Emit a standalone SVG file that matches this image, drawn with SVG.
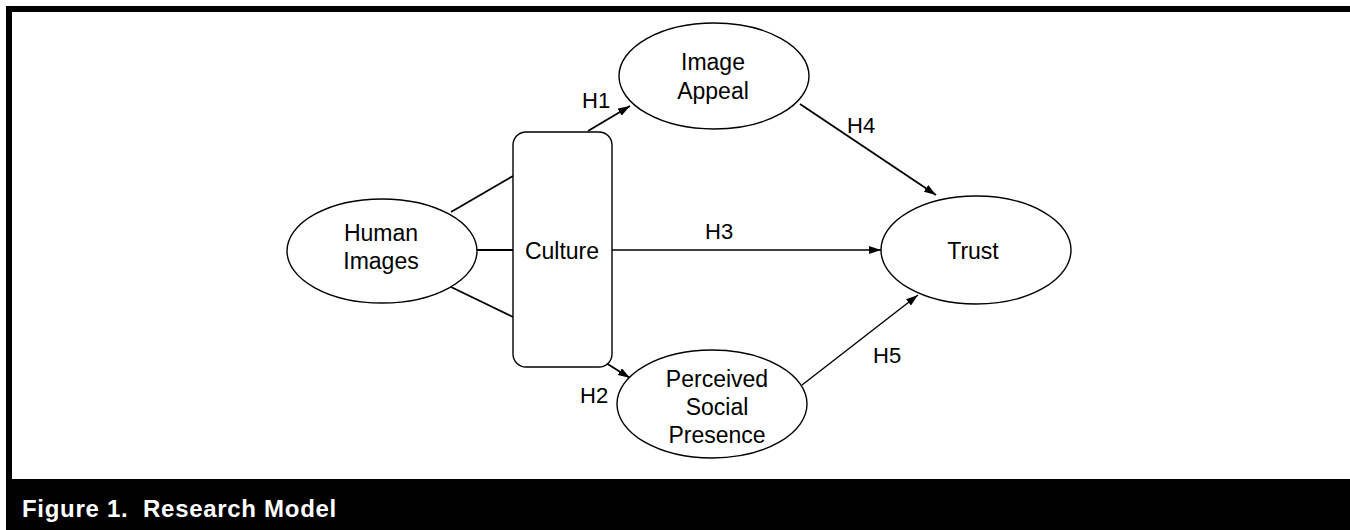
<svg xmlns="http://www.w3.org/2000/svg" width="1350" height="530" viewBox="0 0 1350 530">
<style>
.node{fill:#fff;stroke:#000;stroke-width:1.4}
.t{font-family:"Liberation Sans",Arial,sans-serif;font-size:23px;fill:#000;text-anchor:middle}
.lbl{font-family:"Liberation Sans",Arial,sans-serif;font-size:22px;fill:#000}
.ln{stroke:#000;stroke-width:1.8;fill:none}
.arr{stroke:#000;stroke-width:1.8;fill:none;marker-end:url(#ah)}
.thin{stroke-width:1.4}
.cap{font-family:"Liberation Sans",Arial,sans-serif;font-size:24px;font-weight:bold;fill:#fff;white-space:pre;letter-spacing:0.7px}
</style>
<defs>
<marker id="ah" viewBox="0 0 12 8" refX="12" refY="4" markerWidth="12" markerHeight="8" markerUnits="userSpaceOnUse" orient="auto">
<path d="M0,0 L12,4 L0,8 Z" fill="#000"/>
</marker>
</defs>
<rect x="0" y="0" width="1350" height="530" fill="#fff"/>
<g id="frame">
<rect x="6" y="6" width="1344" height="6" fill="#000"/>
<rect x="6" y="6" width="6" height="524" fill="#000"/>
<rect x="6" y="479" width="1344" height="51" fill="#000"/>
<text class="cap" x="22" y="517">Figure 1.  Research Model</text>
</g>
<g id="connectors">
<line class="ln" x1="451" y1="212" x2="513" y2="176"/>
<line class="ln" x1="477" y1="250" x2="513" y2="250"/>
<line class="ln" x1="451" y1="287" x2="513" y2="317"/>
<line class="arr" x1="588" y1="131" x2="630" y2="106"/>
<line class="arr thin" x1="612" y1="250" x2="881" y2="250"/>
<line class="arr" x1="606" y1="363" x2="630" y2="378"/>
<line class="arr" x1="800" y1="104" x2="936" y2="195"/>
<line class="arr thin" x1="802" y1="385" x2="918" y2="295"/>
<text class="lbl" x="582" y="108">H1</text>
<text class="lbl" x="705" y="239">H3</text>
<text class="lbl" x="580" y="403">H2</text>
<text class="lbl" x="847" y="133">H4</text>
<text class="lbl" x="873" y="363">H5</text>
</g>
<g id="human-images">
<ellipse class="node" cx="382" cy="251" rx="95" ry="52"/>
<text class="t" x="381" y="241">Human</text>
<text class="t" x="381" y="269">Images</text>
</g>
<g id="culture">
<rect class="node" x="513" y="132" width="99" height="235" rx="13" ry="13"/>
<text class="t" x="562" y="259">Culture</text>
</g>
<g id="image-appeal">
<ellipse class="node" cx="714" cy="76" rx="95" ry="53"/>
<text class="t" x="713" y="70">Image</text>
<text class="t" x="713" y="99">Appeal</text>
</g>
<g id="trust">
<ellipse class="node" cx="976" cy="250" rx="95" ry="54"/>
<text class="t" x="973" y="259">Trust</text>
</g>
<g id="perceived-social-presence">
<ellipse class="node" cx="712" cy="404" rx="95" ry="54"/>
<text class="t" x="717" y="387">Perceived</text>
<text class="t" x="717" y="415">Social</text>
<text class="t" x="717" y="443">Presence</text>
</g>
</svg>
